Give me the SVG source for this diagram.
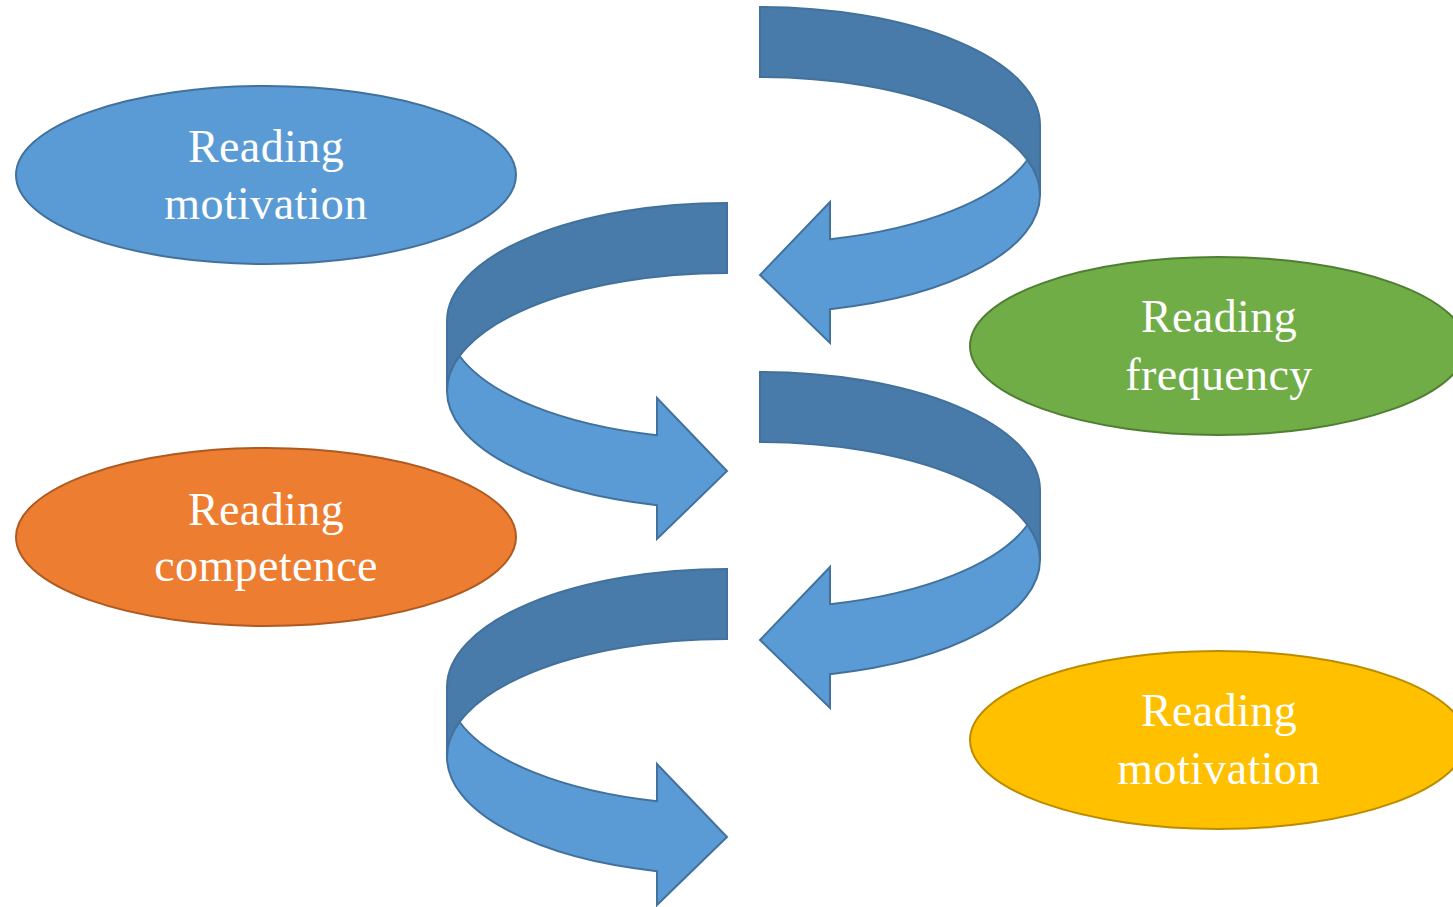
<svg xmlns="http://www.w3.org/2000/svg" xmlns:xlink="http://www.w3.org/1999/xlink" width="1453" height="907" viewBox="0 0 1453 907">
<style>
.back{fill:#487BA9;stroke:#41719C;stroke-width:2;stroke-linejoin:miter}
.front{fill:#5B9BD5;stroke:#41719C;stroke-width:2;stroke-linejoin:miter}
.lbl{font-family:"Liberation Serif","Times New Roman",serif;font-size:46px;fill:#FFFFFF;text-anchor:middle;letter-spacing:0.4px}
</style>
<defs>
<g id="uturn">
<path class="back" d="M760,7 A280,118 0 0 1 1040,125 L1040,195 A280,118 0 0 0 760,77 Z"/>
<path class="front" d="M1027.4,160 A280,118 0 0 1 830,239.2 L830,202 L760,275 L830,343 L830,309.2 A280,118 0 0 0 1040,195 A280,118 0 0 0 1027.4,160 Z"/>
</g>
</defs>
<rect width="1453" height="907" fill="#FFFFFF"/>
<g id="connectors">
<use href="#uturn" xlink:href="#uturn"/>
<use href="#uturn" xlink:href="#uturn" transform="translate(1487,196) scale(-1,1)"/>
<use href="#uturn" xlink:href="#uturn" transform="translate(0,365)"/>
<use href="#uturn" xlink:href="#uturn" transform="translate(1487,562) scale(-1,1)"/>
</g>
<g id="node-motivation-1">
<ellipse cx="266" cy="175" rx="250" ry="89" fill="#5B9BD5" stroke="#41719C" stroke-width="2"/>
<text class="lbl" x="266" y="162">Reading</text>
<text class="lbl" x="266" y="219">motivation</text>
</g>
<g id="node-frequency">
<ellipse cx="1218" cy="346" rx="248" ry="89" fill="#70AD47" stroke="#507E32" stroke-width="2"/>
<text class="lbl" x="1219" y="332">Reading</text>
<text class="lbl" x="1219" y="390">frequency</text>
</g>
<g id="node-competence">
<ellipse cx="266" cy="537" rx="250" ry="89" fill="#ED7D31" stroke="#AE5A21" stroke-width="2"/>
<text class="lbl" x="266" y="525">Reading</text>
<text class="lbl" x="266" y="581">competence</text>
</g>
<g id="node-motivation-2">
<ellipse cx="1218" cy="740" rx="248" ry="89" fill="#FFC000" stroke="#BC8C00" stroke-width="2"/>
<text class="lbl" x="1219" y="726">Reading</text>
<text class="lbl" x="1219" y="784">motivation</text>
</g>
</svg>
